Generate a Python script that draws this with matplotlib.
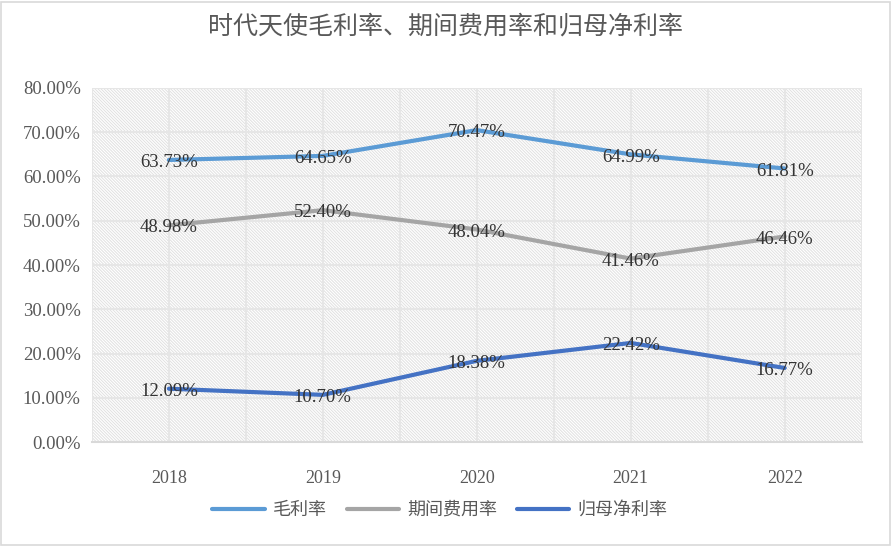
import matplotlib
matplotlib.use("Agg")
import matplotlib.pyplot as plt
from matplotlib.patches import Rectangle
from matplotlib.ticker import MultipleLocator, PercentFormatter

years = ["2018", "2019", "2020", "2021", "2022"]
gross_margin = [63.73, 64.65, 70.47, 64.99, 61.81]
expense_rate = [48.98, 52.40, 48.04, 41.46, 46.46]
net_margin = [12.09, 10.70, 18.38, 22.42, 16.77]

series = [
    ("毛利率", gross_margin, "#5B9BD5"),
    ("期间费用率", expense_rate, "#A5A5A5"),
    ("归母净利率", net_margin, "#4472C4"),
]

cjk = ["Noto Sans CJK SC", "DejaVu Sans"]
serif = "Liberation Serif"
plt.rcParams["hatch.linewidth"] = 0.7

fig = plt.figure(figsize=(8.92, 5.46), dpi=100)
fig.patches.append(Rectangle((0.001, 0.002), 0.997, 0.995, transform=fig.transFigure,
                             fill=False, edgecolor="#D9D9D9", lw=1.2))
ax = fig.add_axes([0.103, 0.190, 0.863, 0.649])

# hatched background
ax.add_patch(Rectangle((0, 0), 1, 1, transform=ax.transAxes, facecolor="white",
                       edgecolor="#E0E0E0", hatch="\\" * 11, lw=0, zorder=0))

x = list(range(len(years)))
for name, vals, col in series:
    ax.plot(x, vals, color=col, lw=3, label=name, solid_capstyle="round", zorder=3)
    for xi, v in zip(x, vals):
        ax.text(xi, v - 0.6, f"{v:.2f}%", ha="center", va="center", fontsize=13.5,
                family=serif, color="#333333", zorder=4)

ax.set_xlim(-0.5, len(years) - 0.5)
ax.set_ylim(0, 80)
ax.yaxis.set_major_locator(MultipleLocator(10))
ax.yaxis.set_major_formatter(PercentFormatter(decimals=2))
ax.set_xticks(x)
ax.set_xticklabels(years)
ax.set_xticks([i - 0.5 for i in range(len(years) + 1)], minor=True)
ax.grid(axis="y", color="#E6E6E6", lw=1.5, zorder=1)
ax.grid(axis="x", which="both", color="#E6E6E6", lw=1.5, zorder=1)
ax.set_axisbelow(True)
for s in ["top", "right", "left"]:
    ax.spines[s].set_visible(False)
ax.spines["bottom"].set_color("#D9D9D9")
ax.spines["bottom"].set_linewidth(1.5)
ax.tick_params(axis="both", which="both", length=0, colors="#595959")
ax.tick_params(axis="x", pad=20)
ax.tick_params(axis="y", pad=8)
for lab in ax.get_yticklabels():
    lab.set_family(serif)
    lab.set_fontsize(13.5)
for lab in ax.get_xticklabels():
    lab.set_family(serif)
    lab.set_fontsize(13)

fig.text(0.5, 0.952, "时代天使毛利率、期间费用率和归母净利率", ha="center", va="center",
         fontsize=18, color="#595959", family=cjk, fontweight="light")

leg = fig.legend(loc="center", bbox_to_anchor=(0.493, 0.066), ncol=3, frameon=False,
                 prop={"family": cjk, "size": 13}, handlelength=2.9, columnspacing=1.1,
                 handletextpad=0.45)
for t in leg.get_texts():
    t.set_color("#595959")

fig.savefig("out.png", dpi=100)
